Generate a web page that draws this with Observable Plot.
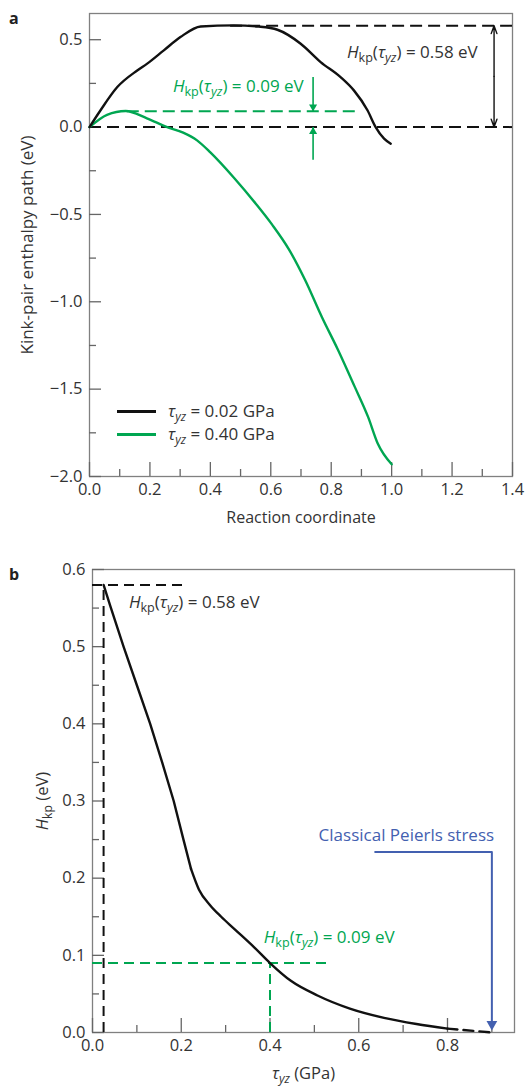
<!DOCTYPE html>
<html><head><meta charset="utf-8">
<script src="https://cdn.jsdelivr.net/npm/d3@7"></script>
<script src="https://cdn.jsdelivr.net/npm/@observablehq/plot@0.6"></script>
<style>
body{margin:0;background:#fff;font-family:"Open Sans",sans-serif;}
#wrap{position:relative;width:531px;height:1086px;overflow:hidden;}
#wrap svg{display:block;}
.plet{position:absolute;font-weight:bold;font-size:16px;line-height:16px;color:#222;}
.leg{position:absolute;font-size:17px;line-height:20px;color:#333;white-space:nowrap;}
.leg .sw{display:inline-block;width:39px;height:0;border-top:3px solid;vertical-align:middle;margin-right:12px;position:relative;top:-1px;}
.leg sub{font-size:12px;font-style:italic;vertical-align:-4px;line-height:0;}
</style></head><body><div id="wrap"></div><script>
// ---------- Panel a data ----------
const aBlackX = [0, 0.036, 0.092, 0.158, 0.191, 0.246, 0.301, 0.368, 0.478, 0.56, 0.622, 0.699, 0.765, 0.831, 0.875, 0.92, 0.947, 0.975, 0.997];
const aBlackY = [0, 0.095, 0.229, 0.324, 0.363, 0.439, 0.515, 0.576, 0.582, 0.575, 0.557, 0.477, 0.372, 0.286, 0.21, 0.096, 0, -0.066, -0.095];
const aGreenX = [0, 0.058, 0.12, 0.19, 0.257, 0.31, 0.356, 0.40, 0.478, 0.551, 0.605, 0.66, 0.714, 0.769, 0.823, 0.878, 0.922, 0.954, 1.0];
const aGreenY = [0, 0.07, 0.092, 0.05, 0.0, -0.032, -0.076, -0.145, -0.29, -0.44, -0.56, -0.70, -0.877, -1.087, -1.277, -1.487, -1.659, -1.811, -1.93];
const aXMajor = [0, 0.2, 0.4, 0.6, 0.8, 1.0, 1.2, 1.4];
const aXMinor = [0.1, 0.3, 0.5, 0.7, 0.9, 1.1, 1.3];
const aYMajor = [-2.0, -1.5, -1.0, -0.5, 0.0, 0.5];
const aYMinor = [-1.75, -1.25, -0.75, -0.25, 0.25];
const legendLabels = ["0.02 GPa", "0.40 GPa"];
const hHigh = 0.58, hLow = 0.09;

// ---------- Panel b data ----------
const bUpperTau = [0.025, 0.04, 0.07, 0.1, 0.13, 0.157, 0.183, 0.205, 0.222];
const bUpperH   = [0.58, 0.553, 0.5, 0.45, 0.4, 0.35, 0.3, 0.25, 0.212];
const bLowerTau = [0.222, 0.24, 0.265, 0.29, 0.32, 0.365, 0.4, 0.447, 0.507, 0.58, 0.657, 0.73, 0.8];
const bLowerH   = [0.212, 0.185, 0.165, 0.15, 0.134, 0.11, 0.09, 0.067, 0.048, 0.031, 0.019, 0.011, 0.005];
const bTailTau = [0.8, 0.9];
const bTailH = [0.005, 0.0];
const tauLow = 0.025, tauHigh = 0.4, peierls = 0.9;
const bXMajor = [0, 0.2, 0.4, 0.6, 0.8];
const bXMinor = [0.1, 0.3, 0.5, 0.7, 0.9];
const bYMajor = [0, 0.1, 0.2, 0.3, 0.4, 0.5, 0.6];
const bYMinor = [0.05, 0.15, 0.25, 0.35, 0.45, 0.55];

const ink = "#333", green = "#00a651", blue = "#4360b0", frameC = "#808080";
const fmt = d3.format(".1f");
const pts = (xs, ys) => xs.map((x, i) => ({x, y: ys[i]}));
const T = d => d;

function axes(xMaj, xMin, yMaj, yMin) {
  return [
    Plot.axisX({ticks: xMaj, tickSize: -14, tickPadding: 21, tickFormat: fmt, stroke: "#666", strokeWidth: 1.3, fill: ink, fontSize: 16.5, label: null}),
    Plot.axisX({ticks: xMin, tickSize: -7, tickFormat: () => "", stroke: "#666", strokeWidth: 1.3, label: null}),
    Plot.axisY({ticks: yMaj, tickSize: -12, tickPadding: 19, tickFormat: fmt, stroke: "#666", strokeWidth: 1.3, fill: ink, fontSize: 16.5, label: null}),
    Plot.axisY({ticks: yMin, tickSize: -7, tickFormat: () => "", stroke: "#666", strokeWidth: 1.3, label: null})
  ];
}

const HK = "Hkp(τyz)";
const SUB = `dy="4" font-size="0.74em"`;
function rich(svg) {
  svg.querySelectorAll("text").forEach(t => {
    const s = t.textContent;
    if (s.startsWith(HK)) {
      const rest = s.slice(HK.length);
      t.innerHTML = `<tspan font-style="italic">H</tspan><tspan ${SUB}>kp</tspan><tspan dy="-4">(</tspan><tspan font-style="italic">τ</tspan><tspan ${SUB} font-style="italic">yz</tspan><tspan dy="-4">)${rest}</tspan>`;
    } else if (s === "Hkp (eV)") {
      t.innerHTML = `<tspan font-style="italic">H</tspan><tspan ${SUB}>kp</tspan><tspan dy="-4"> (eV)</tspan>`;
    } else if (s === "τyz (GPa)") {
      t.innerHTML = `<tspan font-style="italic">τ</tspan><tspan ${SUB} font-style="italic">yz</tspan><tspan dy="-4"> (GPa)</tspan>`;
    }
  });
}

const style = {fontFamily: "'Open Sans', sans-serif", fontSize: "16px", color: ink, background: "white", overflow: "visible"};
const tri = (data, fill, rotate, dy, r) => Plot.dot(data, {x: "x", y: "y", symbol: "triangle", rotate, r, fill, stroke: "none", dy});

const plotA = Plot.plot({
  width: 531, height: 545,
  marginLeft: 89, marginRight: 19, marginTop: 13, marginBottom: 69,
  style,
  x: {domain: [0, 1.4], label: null},
  y: {domain: [-2, 0.65], label: null},
  marks: [
    Plot.frame({stroke: frameC, strokeWidth: 1.3}),
    ...axes(aXMajor, aXMinor, aYMajor, aYMinor),
    Plot.ruleY([0], {stroke: "#111", strokeWidth: 2, strokeDasharray: "12,6"}),
    Plot.ruleY([hHigh], {x1: 0.467, x2: 1.4, stroke: "#111", strokeWidth: 2, strokeDasharray: "12,6"}),
    Plot.ruleY([hLow], {x1: 0.125, x2: 0.897, stroke: green, strokeWidth: 2, strokeDasharray: "12,6"}),
    Plot.line(pts(aGreenX, aGreenY), {x: "x", y: "y", stroke: green, strokeWidth: 2.4, curve: "monotone-x"}),
    Plot.line(pts(aBlackX, aBlackY), {x: "x", y: "y", stroke: "#111", strokeWidth: 2.4, curve: "monotone-x"}),
    Plot.arrow([{x: 1.339, y1: 0.29, y2: hHigh}, {x: 1.339, y1: 0.29, y2: 0}], {x1: "x", x2: "x", y1: "y1", y2: "y2", stroke: "#111", strokeWidth: 1.4, headLength: 9, headAngle: 40}),
    Plot.link([{x: 0.74, y1: 0.286, y2: hLow}, {x: 0.74, y1: -0.187, y2: 0}], {x1: "x", x2: "x", y1: "y1", y2: "y2", stroke: green, strokeWidth: 1.6}),
    tri([{x: 0.74, y: hLow}], green, 180, -4.5, 3),
    tri([{x: 0.74, y: 0}], green, 0, 4.5, 3),
    Plot.text([HK + " = 0.58 eV"], {text: T, x: 1.285, y: 0.427, textAnchor: "end", fill: ink, fontSize: 17}),
    Plot.text([HK + " = 0.09 eV"], {text: T, x: 0.709, y: 0.233, textAnchor: "end", fill: green, fontSize: 17}),
    Plot.text(["Kink-pair enthalpy path (eV)"], {text: T, frameAnchor: "left", textAnchor: "middle", lineAnchor: "middle", dx: -62, rotate: -90, fill: ink, fontSize: 17}),
    Plot.text(["Reaction coordinate"], {text: T, frameAnchor: "bottom", textAnchor: "middle", lineAnchor: "middle", dy: 41, fill: ink, fontSize: 16})
  ]
});

const plotB = Plot.plot({
  width: 531, height: 541,
  marginLeft: 92, marginRight: 17, marginTop: 24, marginBottom: 54,
  style,
  x: {domain: [0, 0.951], label: null},
  y: {domain: [0, 0.6], label: null},
  marks: [
    Plot.frame({stroke: frameC, strokeWidth: 1.3}),
    ...axes(bXMajor, bXMinor, bYMajor, bYMinor),
    Plot.ruleY([hHigh], {x1: 0, x2: 0.205, stroke: "#111", strokeWidth: 2, strokeDasharray: "10,6"}),
    Plot.ruleX([tauLow], {y1: 0, y2: hHigh, stroke: "#111", strokeWidth: 2, strokeDasharray: "10,6"}),
    Plot.ruleY([hLow], {x1: 0, x2: 0.537, stroke: green, strokeWidth: 2, strokeDasharray: "10,6"}),
    Plot.ruleX([tauHigh], {y1: 0, y2: hLow, stroke: green, strokeWidth: 2, strokeDasharray: "10,6"}),
    Plot.line(pts(bUpperTau, bUpperH), {x: "x", y: "y", stroke: "#111", strokeWidth: 2.4, curve: "linear"}),
    Plot.line(pts(bLowerTau, bLowerH), {x: "x", y: "y", stroke: "#111", strokeWidth: 2.4, curve: "monotone-x"}),
    Plot.line(pts(bTailTau, bTailH), {x: "x", y: "y", stroke: "#111", strokeWidth: 2.4, strokeDasharray: "10,6"}),
    Plot.line([{x: 0.637, y: 0.234}, {x: peierls, y: 0.234}, {x: peierls, y: 0.012}], {x: "x", y: "y", stroke: blue, strokeWidth: 2}),
    tri([{x: peierls, y: 0.003}], blue, 180, -6, 4),
    Plot.text(["Classical Peierls stress"], {text: T, x: 0.905, y: 0.255, textAnchor: "end", fill: blue, fontSize: 17}),
    Plot.text([HK + " = 0.58 eV"], {text: T, x: 0.082, y: 0.557, textAnchor: "start", fill: ink, fontSize: 17}),
    Plot.text([HK + " = 0.09 eV"], {text: T, x: 0.386, y: 0.123, textAnchor: "start", fill: green, fontSize: 17}),
    Plot.text(["Hkp (eV)"], {text: T, frameAnchor: "left", textAnchor: "middle", lineAnchor: "middle", dx: -50, rotate: -90, fill: ink, fontSize: 16.5}),
    Plot.text(["τyz (GPa)"], {text: T, frameAnchor: "bottom", textAnchor: "middle", lineAnchor: "middle", dy: 41, fill: ink, fontSize: 16.5})
  ]
});

rich(plotA); rich(plotB);
const wrap = document.getElementById("wrap");
wrap.appendChild(plotA);
wrap.appendChild(plotB);

function addDiv(cls, left, top, html) {
  const d = document.createElement("div");
  d.className = cls; d.style.left = left + "px"; d.style.top = top + "px"; d.innerHTML = html;
  wrap.appendChild(d);
}
addDiv("plet", 9, 10, "a");
addDiv("plet", 9, 566, "b");
addDiv("leg", 117, 401, `<span class="sw" style="border-color:#111"></span><i>τ</i><sub>yz</sub> = ${legendLabels[0]}`);
addDiv("leg", 117, 424, `<span class="sw" style="border-color:${green}"></span><i>τ</i><sub>yz</sub> = ${legendLabels[1]}`);
</script></body></html>
